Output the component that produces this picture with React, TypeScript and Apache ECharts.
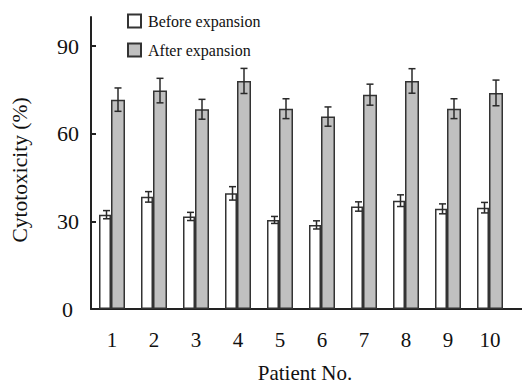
import React, { useEffect, useRef } from "react";
import * as echarts from "echarts";

const categories = ["1", "2", "3", "4", "5", "6", "7", "8", "9", "10"];
const beforeValues = [32.3, 38.4, 31.7, 39.6, 30.5, 28.8, 35.1, 37.1, 34.3, 34.7];
const beforeErrors = [1.4, 1.8, 1.4, 2.3, 1.2, 1.4, 1.6, 2.0, 1.7, 1.8];
const afterValues = [71.7, 74.8, 68.4, 78.1, 68.6, 65.9, 73.4, 78.1, 68.6, 74.0];
const afterErrors = [4.0, 4.2, 3.4, 4.3, 3.4, 3.3, 3.6, 4.2, 3.4, 4.4];
const yTicks = [0, 30, 60, 90];

const FONT = "Liberation Serif";
const WHITE_W = 12;
const GRAY_W = 14;

function errorSeries(name: string, values: number[], errors: number[], offset: number) {
  return {
    name: name + " err",
    type: "custom",
    silent: true,
    z: 10,
    data: values.map((v, i) => [i, v - errors[i], v + errors[i]]),
    renderItem: (params: any, api: any) => {
      const lo = api.coord([api.value(0), api.value(1)]);
      const hi = api.coord([api.value(0), api.value(2)]);
      const x = lo[0] + offset;
      const cap = 3.5;
      const style = { stroke: "#2a2a2a", lineWidth: 1.5 };
      return {
        type: "group",
        children: [
          { type: "line", shape: { x1: x, y1: lo[1], x2: x, y2: hi[1] }, style },
          { type: "line", shape: { x1: x - cap, y1: lo[1], x2: x + cap, y2: lo[1] }, style },
          { type: "line", shape: { x1: x - cap, y1: hi[1], x2: x + cap, y2: hi[1] }, style },
        ],
      };
    },
  };
}

export default function App() {
  const ref = useRef<HTMLDivElement>(null);
  useEffect(() => {
    const chart = echarts.init(ref.current!, null, { renderer: "svg" });
    const total = WHITE_W + GRAY_W;
    const whiteOffset = -total / 2 + WHITE_W / 2 + 1.5;
    const grayOffset = total / 2 - GRAY_W / 2;
    chart.setOption({
      animation: false,
      backgroundColor: "#ffffff",
      textStyle: { fontFamily: FONT },
      grid: { left: 91, right: 11, top: 17, bottom: 75, containLabel: false, outerBoundsMode: "none" },
      legend: {
        orient: "vertical",
        left: 127,
        top: 13,
        padding: 0,
        icon: "rect",
        itemWidth: 13,
        itemHeight: 13,
        itemGap: 13,
        data: ["Before expansion", "After expansion"],
        textStyle: { fontFamily: FONT, fontSize: 16, color: "#111", padding: [0, 0, 0, 2] },
      },
      xAxis: {
        type: "category",
        data: categories,
        axisLine: { lineStyle: { color: "#222", width: 2 } },
        axisTick: { show: false },
        axisLabel: { fontFamily: FONT, fontSize: 21, color: "#111", margin: 20 },
      },
      yAxis: {
        type: "value",
        min: 0,
        max: 100,
        interval: 30,
        splitLine: { show: false },
        axisLine: { show: true, lineStyle: { color: "#222", width: 2 } },
        axisTick: { show: true, inside: true, length: 5, customValues: yTicks, lineStyle: { color: "#222", width: 2 } },
        axisLabel: {
          fontFamily: FONT,
          fontSize: 22,
          color: "#111",
          margin: 12,
          customValues: yTicks,
          formatter: (v: number) => (v === 0 ? "{z|0}" : String(v)),
          rich: { z: { fontFamily: FONT, fontSize: 22, color: "#111", padding: [0, 6, 0, 0] } },
        },
      },
      graphic: [
        {
          type: "line",
          shape: { x1: 510, y1: 309, x2: 522, y2: 309 },
          style: { stroke: "#222", lineWidth: 2 },
        },
        {
          type: "text",
          x: 305,
          y: 373,
          style: {
            text: "Patient No.",
            font: "21px 'Liberation Serif'",
            fill: "#111",
            align: "center",
            verticalAlign: "middle",
          },
        },
        {
          type: "text",
          x: 20,
          y: 170,
          rotation: Math.PI / 2,
          style: {
            text: "Cytotoxicity (%)",
            font: "21.5px 'Liberation Serif'",
            fill: "#111",
            align: "center",
            verticalAlign: "middle",
          },
        },
      ],
      series: [
        {
          name: "Before expansion",
          type: "bar",
          data: beforeValues,
          barWidth: WHITE_W,
          barGap: "0%",
          itemStyle: { color: "#ffffff", borderColor: "#333", borderWidth: 1.5 },
        },
        {
          name: "After expansion",
          type: "bar",
          data: afterValues,
          barWidth: GRAY_W,
          barGap: "0%",
          itemStyle: { color: "#c0c0c0", borderColor: "#333", borderWidth: 1.5 },
        },
        errorSeries("Before", beforeValues, beforeErrors, whiteOffset),
        errorSeries("After", afterValues, afterErrors, grayOffset),
      ],
    });
    return () => chart.dispose();
  }, []);
  return <div ref={ref} style={{ width: 522, height: 384, position: "absolute", left: 0, top: 0 }} />;
}
